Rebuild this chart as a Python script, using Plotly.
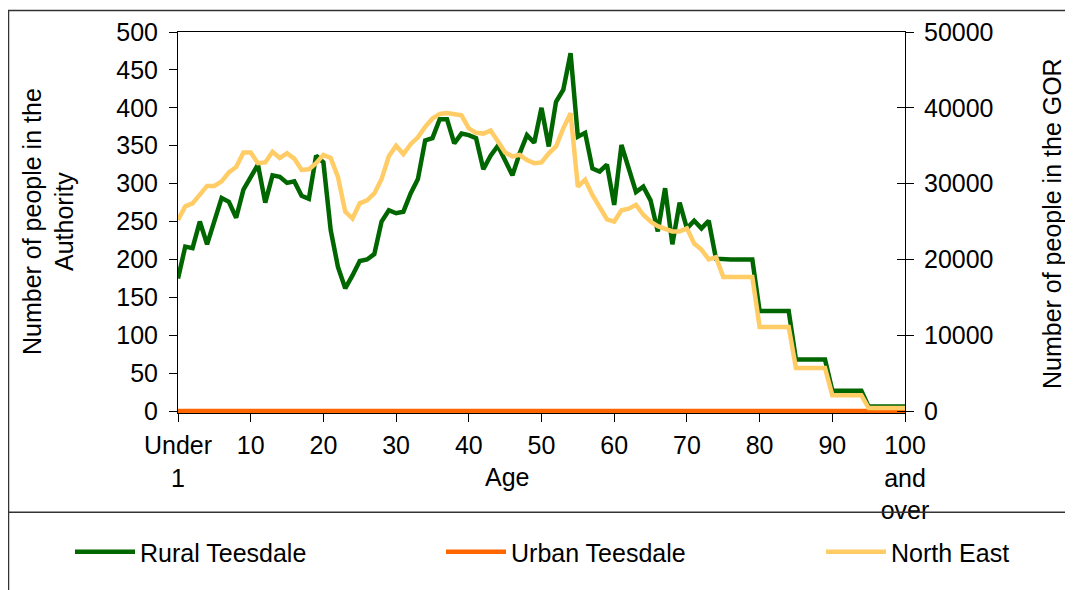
import plotly.graph_objects as go

ages = list(range(101))
tick_vals = [0, 10, 20, 30, 40, 50, 60, 70, 80, 90, 100]
tick_text = ["Under<br>1", "10", "20", "30", "40", "50", "60", "70", "80", "90", "100<br>and<br>over"]

rural_teesdale = [
    175, 217, 215, 250, 220, 250, 281, 276, 255, 292,
    308, 325, 275, 311, 309, 301, 303, 284, 280, 337,
    328, 239, 190, 162, 179, 198, 200, 207, 250, 265,
    261, 263, 287, 306, 357, 360, 385, 385, 353, 366,
    364, 360, 319, 337, 350, 331, 311, 340, 364, 354,
    400, 349, 408, 424, 472, 362, 367, 320, 316, 325,
    272, 351, 322, 289, 296, 278, 237, 294, 220, 275,
    241, 251, 241, 251, 201, 200, 200, 200, 200, 200,
    132, 132, 132, 132, 132, 68, 68, 68, 68, 68,
    27, 27, 27, 27, 27, 6, 6, 6, 6, 6, 6,
]
urban_teesdale = [0] * 101
north_east = [
    25200, 27000, 27400, 28600, 29700, 29700, 30300, 31500, 32200, 34100,
    34100, 32700, 32800, 34200, 33400, 34000, 33300, 31800, 31900, 32700,
    33800, 33400, 30900, 26300, 25400, 27400, 27800, 28700, 30600, 33600,
    35000, 33900, 35200, 36100, 37500, 38600, 39200, 39300, 39100, 39000,
    37300, 36700, 36600, 37000, 35600, 34100, 33600, 33800, 33100, 32700,
    32800, 34000, 34900, 37300, 39300, 29600, 30500, 28500, 26900, 25300,
    25000, 26500, 26700, 27200, 25900, 25000, 24400, 24000, 23700, 23700,
    24100, 22100, 21300, 20000, 20300, 17700, 17700, 17700, 17700, 17700,
    11100, 11100, 11100, 11100, 11100, 5700, 5700, 5700, 5700, 5700,
    2100, 2100, 2100, 2100, 2100, 400, 400, 400, 400, 400, 400,
]

OFF = 8                            # page body margin
W, H = 1073 - OFF, 590 - OFF
# reference pixel positions (page coords) of x=0, x=100, y=500, y=0
L, R, T, B = 178 - OFF, 905 - OFF, 32 - OFF, 411 - OFF
FONT = "Liberation Sans, Arial, sans-serif"
FS = 25
PPU = (B - T) / 500.0
Y0 = -2.5
BOT = B - Y0 * PPU


def px(x):
    return (x - OFF - L) / (R - L)


def py(y):
    return (BOT - (y - OFF)) / (BOT - T)


def cx(x):
    return (x - OFF) / W


def cy(y):
    return 1 - (y - OFF) / H


fig = go.Figure()
fig.add_trace(go.Scatter(x=ages, y=rural_teesdale, mode="lines", name="Rural Teesdale",
                         line=dict(color="#006600", width=4.5), yaxis="y", legend="legend"))
fig.add_trace(go.Scatter(x=ages, y=urban_teesdale, mode="lines", name="Urban Teesdale",
                         line=dict(color="#FF6600", width=4.5), yaxis="y", legend="legend2"))
fig.add_trace(go.Scatter(x=ages, y=north_east, mode="lines", name="North East",
                         line=dict(color="#FFCC66", width=4.5), yaxis="y2", legend="legend3"))
fig.add_trace(go.Scatter(x=ages, y=north_east, mode="lines", showlegend=False, hoverinfo="skip",
                         line=dict(color="rgba(0,0,0,0)", width=0), yaxis="y3"))

leg = dict(orientation="h", xref="container", yref="container", xanchor="left",
           yanchor="middle", itemwidth=60, font=dict(size=FS), bgcolor="rgba(0,0,0,0)")

fig.update_layout(
    width=W, height=H,
    margin=dict(l=L, r=W - R, t=T, b=H - BOT, pad=0, autoexpand=False),
    paper_bgcolor="white", plot_bgcolor="white",
    font=dict(family=FONT, size=FS, color="black"),
    showlegend=True,
    legend=dict(leg, x=cx(70), y=cy(552)),
    legend2=dict(leg, x=cx(441), y=cy(552)),
    legend3=dict(leg, x=cx(821), y=cy(552)),
    xaxis=dict(range=[0, 100], tickvals=tick_vals, ticktext=tick_text, ticks="outside",
               ticklen=8, tickcolor="black", showline=True, linecolor="black", linewidth=1,
               mirror=True, showgrid=False, zeroline=False, ticklabelstandoff=2,
               automargin=False),
    yaxis=dict(range=[Y0, 500], tickvals=list(range(0, 501, 50)), ticks="outside", ticklen=8,
               tickcolor="black", showline=True, linecolor="black", linewidth=1,
               showgrid=False, zeroline=False, ticklabelstandoff=6, automargin=False),
    yaxis2=dict(range=[Y0 * 100, 50000], tickvals=list(range(0, 50001, 10000)),
                tickformat="d", overlaying="y",
                side="right", ticks="outside", ticklen=8, tickcolor="black", showline=True,
                linecolor="black", linewidth=1, showgrid=False, zeroline=False,
                ticklabelstandoff=5, automargin=False),
    yaxis3=dict(range=[Y0 * 100, 50000], tickvals=list(range(0, 50001, 10000)), overlaying="y",
                side="right", ticks="inside", ticklen=8, tickcolor="black", showline=False,
                showticklabels=False, showgrid=False, zeroline=False, automargin=False),
)

fig.add_annotation(text="Number of people in the<br>Authority", textangle=-90,
                   x=px(48), y=py(222), xref="paper", yref="paper", showarrow=False,
                   xanchor="center", yanchor="middle", font=dict(size=FS))
fig.add_annotation(text="Number of people in the GOR", textangle=-90,
                   x=px(1052), y=py(224), xref="paper", yref="paper", showarrow=False,
                   xanchor="center", yanchor="middle", font=dict(size=FS))
fig.add_annotation(text="Age", x=px(507), y=py(477), xref="paper", yref="paper",
                   showarrow=False, xanchor="center", yanchor="middle", font=dict(size=FS))

frame = dict(color="#333333", width=1.5)
fig.add_shape(type="line", xref="paper", yref="paper", x0=px(8), x1=px(1090), y0=py(10.5), y1=py(10.5), line=frame)
fig.add_shape(type="line", xref="paper", yref="paper", x0=px(8.5), x1=px(8.5), y0=py(10.5), y1=py(600), line=frame)
fig.add_shape(type="line", xref="paper", yref="paper", x0=px(8), x1=px(1090), y0=py(512), y1=py(512), line=frame)

fig.write_html("out.html")
